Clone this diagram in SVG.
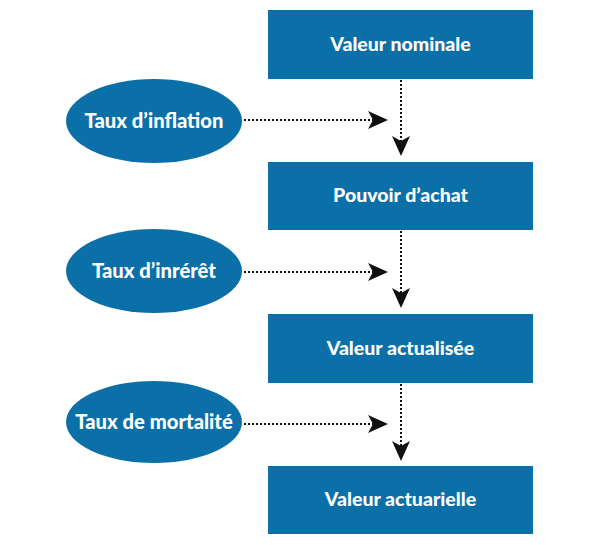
<svg xmlns="http://www.w3.org/2000/svg" width="600" height="545" viewBox="0 0 600 545">
<style>
.box{fill:#0b6fa8}
.ell{fill:#0b6fa8}
.t{fill:#fff;font-family:Lato,"Liberation Sans",sans-serif;font-weight:900;font-size:19.5px;text-anchor:middle}
.te{font-size:20.2px}
.c{stroke:#111;stroke-width:2;stroke-dasharray:2 2;fill:none}
</style>
<defs>
<marker id="ah" viewBox="0 0 20 18" refX="19" refY="9" markerWidth="20" markerHeight="18" markerUnits="userSpaceOnUse" orient="auto">
<path d="M0,0 L20,9 L0,18 L5,9 Z" fill="#111"/>
</marker>
</defs>
<rect width="600" height="545" fill="#fff"/>
<g id="connectors">
<path class="c" d="M244,120 H387" marker-end="url(#ah)"/>
<path class="c" d="M401,80 V155" marker-end="url(#ah)"/>
<path class="c" d="M244,272 H387" marker-end="url(#ah)"/>
<path class="c" d="M401,231 V307" marker-end="url(#ah)"/>
<path class="c" d="M244,424 H387" marker-end="url(#ah)"/>
<path class="c" d="M401,384 V460" marker-end="url(#ah)"/>
</g>
<g id="n1"><rect class="box" x="268" y="10" width="265" height="69"/><text class="t" x="400.5" y="51">Valeur nominale</text></g>
<g id="n2"><rect class="box" x="268" y="162" width="265" height="68"/><text class="t" x="400.5" y="202">Pouvoir d’achat</text></g>
<g id="n3"><rect class="box" x="268" y="314" width="265" height="69"/><text class="t" x="400.5" y="355">Valeur actualisée</text></g>
<g id="n4"><rect class="box" x="268" y="466" width="265" height="68"/><text class="t" x="400.5" y="506">Valeur actuarielle</text></g>
<g id="e1"><ellipse class="ell" cx="154" cy="121" rx="88" ry="42"/><text class="t te" x="154" y="128">Taux d’inflation</text></g>
<g id="e2"><ellipse class="ell" cx="154" cy="271" rx="88" ry="42"/><text class="t te" x="154" y="278">Taux d’inrérêt</text></g>
<g id="e3"><ellipse class="ell" cx="154" cy="422" rx="88" ry="41"/><text class="t te" x="154" y="429">Taux de mortalité</text></g>
</svg>
